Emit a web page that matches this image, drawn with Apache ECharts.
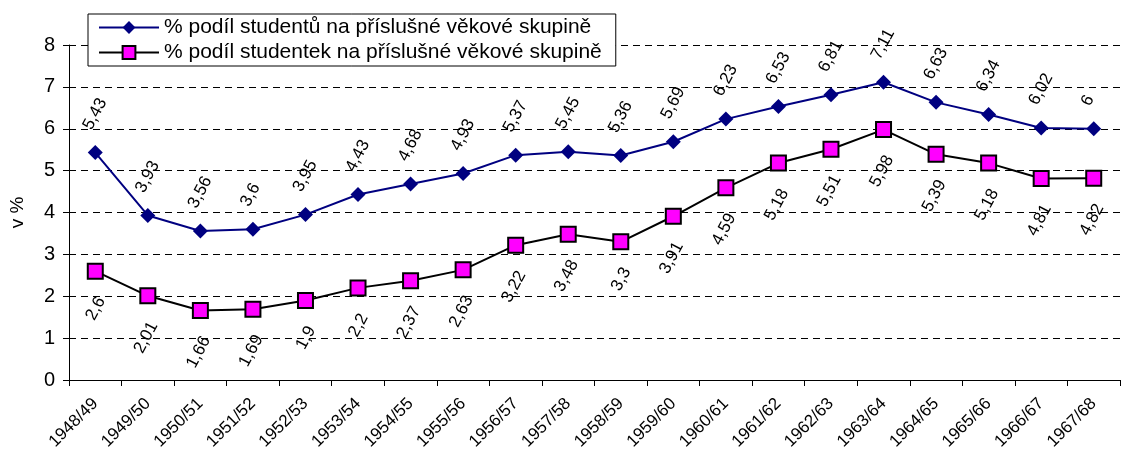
<!DOCTYPE html>
<html><head><meta charset="utf-8">
<script src="https://cdn.jsdelivr.net/npm/echarts@6/dist/echarts.min.js"></script>
<style>html,body{margin:0;padding:0;background:#fff}#c{width:1122px;height:455px}</style>
</head><body><div id="c"></div>
<script>
const categories = ["1948/49","1949/50","1950/51","1951/52","1952/53","1953/54","1954/55","1955/56","1956/57","1957/58","1958/59","1959/60","1960/61","1961/62","1962/63","1963/64","1964/65","1965/66","1966/67","1967/68"];
const students = [5.43,3.93,3.56,3.6,3.95,4.43,4.68,4.93,5.37,5.45,5.36,5.69,6.23,6.53,6.81,7.11,6.63,6.34,6.02,6];
const studentky = [2.6,2.01,1.66,1.69,1.9,2.2,2.37,2.63,3.22,3.48,3.3,3.91,4.59,5.18,5.51,5.98,5.39,5.18,4.81,4.82];
const yTicks = [0,1,2,3,4,5,6,7,8];
const seriesNames = ["% podíl studentů na příslušné věkové skupině","% podíl studentek na příslušné věkové skupině"];

const font = "Liberation Sans, Arial, sans-serif";
const fmt = p => String(p.value).replace('.', ',');
const chart = echarts.init(document.getElementById('c'));
chart.setOption({
  animation: false,
  textStyle: {fontFamily: font},
  grid: {left: 66, right: 2, top: 45, bottom: 75, containLabel: false},
  legend: {
    orient: 'vertical', left: 88, top: 14,
    itemWidth: 60, itemHeight: 16, itemGap: 4,
    padding: [3, 14, 3, 10],
    borderColor: '#000', borderWidth: 1, backgroundColor: '#fff',
    textStyle: {fontSize: 21, color: '#000', fontFamily: font},
    data: seriesNames
  },
  xAxis: {
    type: 'category', data: categories, boundaryGap: true,
    axisLine: {lineStyle: {color: '#000', width: 1}},
    axisTick: {show: true, length: 6, lineStyle: {color: '#000'}},
    axisLabel: {rotate: 45, fontSize: 17, color: '#000', margin: 21, interval: 0, fontFamily: font},
    splitLine: {show: false}
  },
  yAxis: {
    type: 'value', min: yTicks[0], max: yTicks[yTicks.length-1], interval: 1,
    name: 'v %', nameLocation: 'middle', nameGap: 42, nameRotate: 90,
    nameTextStyle: {fontSize: 19, color: '#000', fontFamily: font},
    axisLine: {show: true, lineStyle: {color: '#000', width: 1}},
    axisTick: {show: true, length: 6, inside: false, lineStyle: {color: '#000'}},
    axisLabel: {fontSize: 20, color: '#000', margin: 14, fontFamily: font},
    splitLine: {show: true, lineStyle: {color: '#000', type: [7, 5], width: 1}}
  },
  series: [
    {
      name: seriesNames[0], type: 'line', data: students,
      symbol: 'diamond', symbolSize: 15,
      itemStyle: {color: '#000080'},
      lineStyle: {color: '#000080', width: 2},
      label: {show: true, position: [-0.5, -16.5], rotate: 62, align: 'left', verticalAlign: 'middle',
        formatter: fmt, fontSize: 17, color: '#000', fontFamily: font}
    },
    {
      name: seriesNames[1], type: 'line', data: studentky,
      symbol: 'rect', symbolSize: 15,
      itemStyle: {color: '#FF00FF', borderColor: '#000', borderWidth: 2},
      lineStyle: {color: '#000', width: 2},
      label: {show: true, position: [14.5, 35.5], rotate: 62, align: 'right', verticalAlign: 'middle',
        formatter: fmt, fontSize: 17, color: '#000', fontFamily: font}
    }
  ]
});
</script></body></html>
